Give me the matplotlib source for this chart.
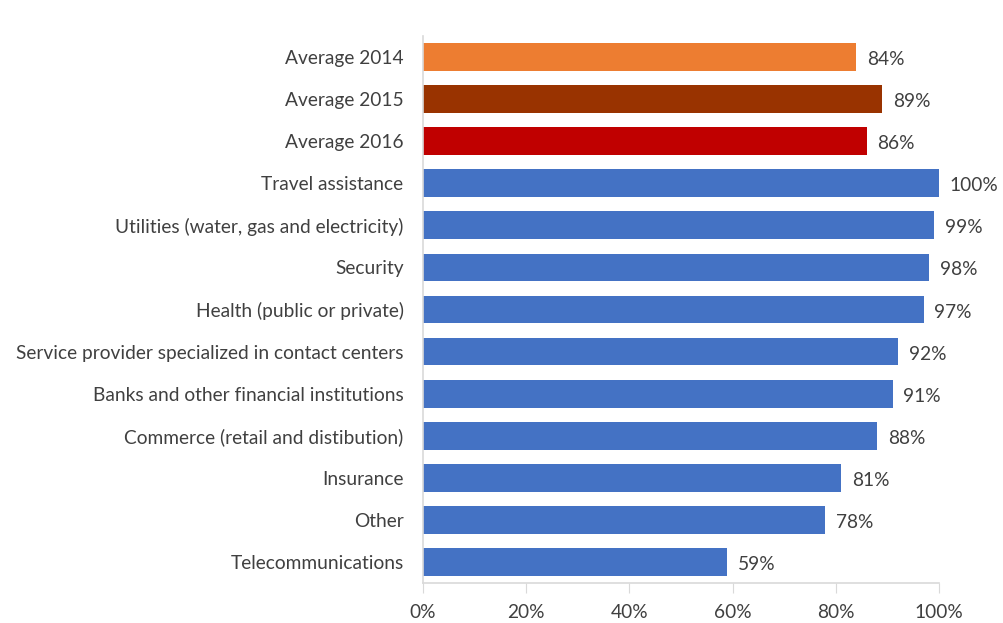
import matplotlib.pyplot as plt

categories = ["Average 2014", "Average 2015", "Average 2016", "Travel assistance",
              "Utilities (water, gas and electricity)", "Security", "Health (public or private)",
              "Service provider specialized in contact centers", "Banks and other financial institutions",
              "Commerce (retail and distibution)", "Insurance", "Other", "Telecommunications"]
values = [84, 89, 86, 100, 99, 98, 97, 92, 91, 88, 81, 78, 59]
colors = ["#ED7D31", "#993300", "#C00000"] + ["#4472C4"] * 10
xticks = [0, 20, 40, 60, 80, 100]

plt.rcParams['font.family'] = ['Lato', 'DejaVu Sans']
txt = "#404040"

fig = plt.figure(figsize=(10.04, 6.23), dpi=100)
ax = fig.add_axes([423 / 1004, 1 - 583 / 623, (939 - 423) / 1004, (583 - 36) / 623])

pos = list(range(len(categories)))
ax.barh(pos, values, height=0.66, color=colors)
ax.set_ylim(len(categories) - 0.5, -0.5)
ax.set_xlim(0, 100)
ax.set_yticks(pos)
ax.set_yticklabels(categories, fontsize=13.8, color=txt)
ax.set_xticks(xticks)
ax.set_xticklabels([f"{t}%" for t in xticks], fontsize=13.8, color=txt)
ax.tick_params(axis='y', length=0, pad=14)
ax.tick_params(axis='x', length=7, color="#D9D9D9", pad=8)

for p, v in zip(pos, values):
    ax.text(v + 2.1, p + 0.06, f"{v}%", va='center', ha='left', fontsize=13.8, color=txt)

for s in ['top', 'right']:
    ax.spines[s].set_visible(False)
for s in ['left', 'bottom']:
    ax.spines[s].set_color("#D9D9D9")
    ax.spines[s].set_linewidth(1.2)

fig.savefig("out.png", dpi=100)
